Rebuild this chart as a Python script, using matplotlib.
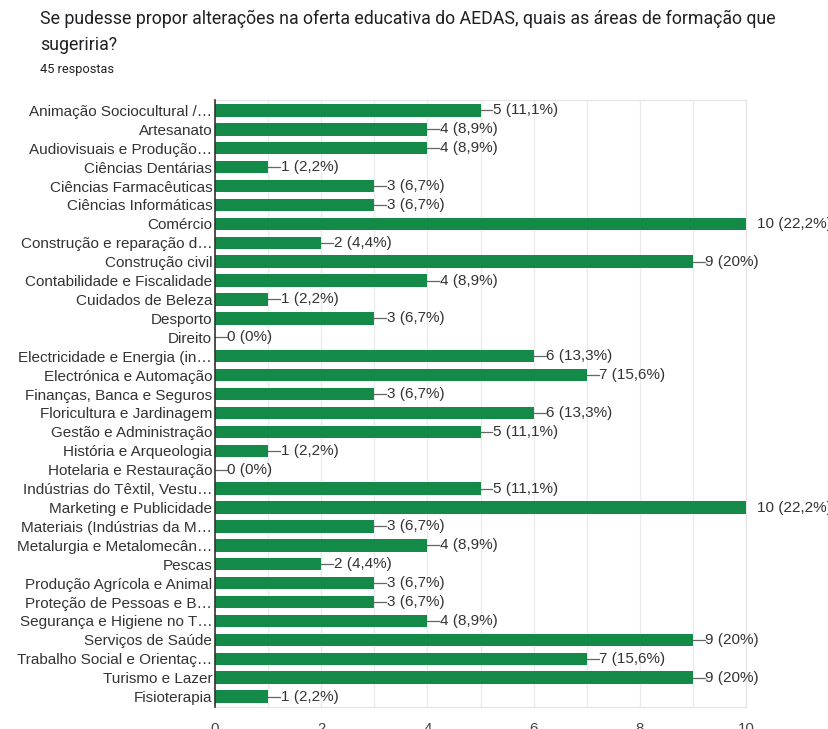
import matplotlib
matplotlib.use("Agg")
import matplotlib.pyplot as plt

categories = [
    "Animação Sociocultural /…",
    "Artesanato",
    "Audiovisuais e Produção…",
    "Ciências Dentárias",
    "Ciências Farmacêuticas",
    "Ciências Informáticas",
    "Comércio",
    "Construção e reparação d…",
    "Construção civil",
    "Contabilidade e Fiscalidade",
    "Cuidados de Beleza",
    "Desporto",
    "Direito",
    "Electricidade e Energia (in…",
    "Electrónica e Automação",
    "Finanças, Banca e Seguros",
    "Floricultura e Jardinagem",
    "Gestão e Administração",
    "História e Arqueologia",
    "Hotelaria e Restauração",
    "Indústrias do Têxtil, Vestu…",
    "Marketing e Publicidade",
    "Materiais (Indústrias da M…",
    "Metalurgia e Metalomecân…",
    "Pescas",
    "Produção Agrícola e Animal",
    "Proteção de Pessoas e B…",
    "Segurança e Higiene no T…",
    "Serviços de Saúde",
    "Trabalho Social e Orientaç…",
    "Turismo e Lazer",
    "Fisioterapia",
]
counts = [5, 4, 4, 1, 3, 3, 10, 2, 9, 4, 1, 3, 0, 6, 7, 3, 6, 5, 1, 0,
          5, 10, 3, 4, 2, 3, 3, 4, 9, 7, 9, 1]
pct_labels = ["11,1%", "8,9%", "8,9%", "2,2%", "6,7%", "6,7%", "22,2%", "4,4%",
              "20%", "8,9%", "2,2%", "6,7%", "0%", "13,3%", "15,6%", "6,7%",
              "13,3%", "11,1%", "2,2%", "0%", "11,1%", "22,2%", "6,7%", "8,9%",
              "4,4%", "6,7%", "6,7%", "8,9%", "20%", "15,6%", "20%", "2,2%"]
xticks = [0, 2, 4, 6, 8, 10]

W, H = 829, 729
fig = plt.figure(figsize=(W / 100, H / 100), dpi=100)
fig.patch.set_facecolor("white")

label_font = ["Liberation Sans", "DejaVu Sans"]
title_font = ["Roboto", "DejaVu Sans"]

fig.text(40 / W, 1 - 19 / H,
         "Se pudesse propor alterações na oferta educativa do AEDAS, quais as áreas de formação que",
         family=title_font, fontsize=12.8, color="#202124", va="center", ha="left")
fig.text(40 / W, 1 - 45 / H, "sugeriria?",
         family=title_font, fontsize=12.8, color="#202124", va="center", ha="left")
fig.text(40 / W, 1 - 70 / H, "45 respostas",
         family=title_font, fontsize=9.2, color="#202124", va="center", ha="left")

left, right, top, bottom = 215, 746, 100, 707
ax = fig.add_axes([left / W, 1 - bottom / H, (right - left) / W, (bottom - top) / H])

n = len(categories)
ypos = list(range(n))
bar_color = "#148a48"
ax.barh(ypos, counts, height=0.66, color=bar_color, zorder=3)

ax.set_xlim(0, 10)
ax.set_ylim(n - 0.5 + 0.05, -0.5 - 0.05)

ax.set_xticks(range(0, 11), minor=False)
ax.set_xticklabels([str(v) if v in xticks else "" for v in range(0, 11)],
                   family=label_font, fontsize=10.8, color="#444444")
ax.tick_params(axis="x", length=0, pad=10.5)
ax.grid(axis="x", color="#ebebeb", linewidth=1, zorder=0)

ax.set_yticks(ypos)
ax.set_yticklabels(categories, family=label_font, fontsize=11, color="#333333")
ax.tick_params(axis="y", length=0, pad=2)

for side in ("top", "right", "bottom"):
    ax.spines[side].set_color("#e6e6e6")
    ax.spines[side].set_linewidth(1)
ax.spines["left"].set_color("#333333")
ax.spines["left"].set_linewidth(1.2)
ax.spines["left"].set_zorder(4)

# value annotations with a short leader line
unit = (right - left) / 10.0
for y, c, p in zip(ypos, counts, pct_labels):
    txt = f"{c} ({p})"
    if c >= 10:
        ax.text(c + 11 / unit, y, txt, va="center", ha="left",
                family=label_font, fontsize=11, color="#333333", clip_on=False)
    else:
        ax.plot([c, c + 12 / unit], [y, y], color="#666666", linewidth=0.9,
                zorder=4, clip_on=False)
        ax.text(c + 12.5 / unit, y, txt, va="center", ha="left",
                family=label_font, fontsize=11, color="#333333", clip_on=False)

fig.savefig("out.png", dpi=100)
